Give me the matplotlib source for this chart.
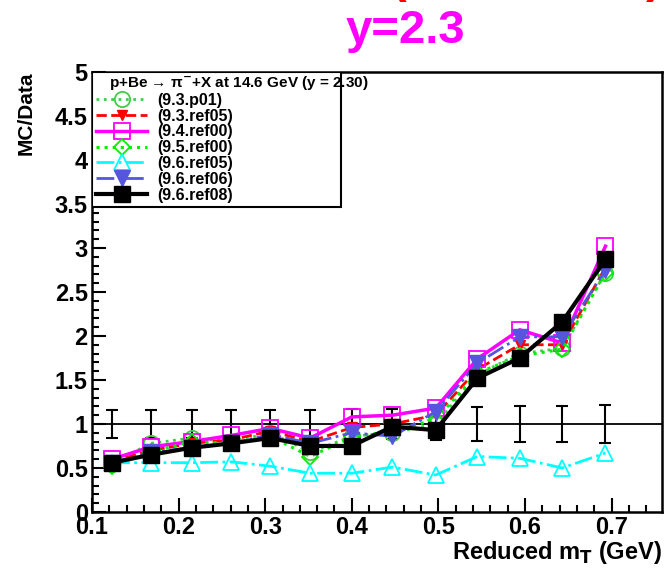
import numpy as np
import matplotlib.pyplot as plt
from matplotlib.patches import Rectangle
from matplotlib.ticker import MultipleLocator, FuncFormatter

plt.rcParams['font.family'] = ['Liberation Sans', 'DejaVu Sans']
plt.rcParams['font.weight'] = 'bold'

# reduced mT bin centres (GeV)
mt = [0.123, 0.168, 0.215, 0.261, 0.306, 0.352, 0.400, 0.447, 0.497, 0.545, 0.594, 0.643, 0.693]
# data uncertainty band around 1
data_err = [0.16, 0.16, 0.16, 0.16, 0.16, 0.16, 0.17, 0.17, 0.18, 0.19, 0.20, 0.20, 0.22]

p01 = [0.55, 0.78, 0.84, 0.80, 0.90, 0.68, 0.86, 0.90, 1.00, 1.56, 1.80, 1.86, 2.72]
ref05_93 = [0.57, 0.70, 0.78, 0.82, 0.92, 0.80, 0.96, 1.00, 1.10, 1.62, 1.90, 1.90, 2.78]
ref00_94 = [0.60, 0.74, 0.80, 0.87, 0.95, 0.84, 1.08, 1.10, 1.18, 1.74, 2.07, 1.92, 3.02]
ref00_95 = [0.52, 0.68, 0.80, 0.78, 0.86, 0.63, 0.85, 0.92, 1.05, 1.58, 1.77, 1.85, 2.72]
ref05_96 = [0.56, 0.56, 0.56, 0.57, 0.52, 0.44, 0.44, 0.51, 0.42, 0.63, 0.61, 0.50, 0.67]
ref06_96 = [0.56, 0.68, 0.73, 0.78, 0.88, 0.78, 0.90, 0.86, 1.14, 1.69, 1.99, 1.99, 2.75]
ref08_96 = [0.56, 0.65, 0.73, 0.78, 0.84, 0.75, 0.75, 0.97, 0.93, 1.52, 1.75, 2.16, 2.87]

fig = plt.figure(figsize=(6.64, 5.70), dpi=100)
ax = fig.add_axes([0.1386, 0.1018, 0.858, 0.772])

ax.axhline(1.0, color='black', lw=1.3)
ax.errorbar(mt, np.ones(len(mt)), yerr=data_err, fmt='none', ecolor='black',
            elinewidth=1.5, capsize=4, capthick=1.5)

ax.plot(mt, p01, color='#44cc44', ls=':', lw=2, marker='o', ms=11,
        mfc='none', mec='#44cc44', mew=1.3, label='(9.3.p01)')
ax.plot(mt, ref05_93, color='red', ls='--', lw=2, marker='v', ms=7,
        mfc='red', mec='red', label='(9.3.ref05)')
ax.plot(mt, ref00_94, color='magenta', ls='-', lw=2.5, marker='s', ms=12,
        mfc='none', mec='magenta', mew=1.3, label='(9.4.ref00)')
ax.plot(mt, ref00_95, color='#00ee00', ls=':', lw=2.2, marker='D', ms=8,
        mfc='none', mec='#00ee00', mew=1.3, label='(9.5.ref00)')
ax.plot(mt, ref05_96, color='cyan', ls='-.', lw=2, marker='^', ms=12,
        mfc='none', mec='cyan', mew=1.3, label='(9.6.ref05)')
ax.plot(mt, ref06_96, color='#5555dd', ls='-.', lw=2, marker='v', ms=11,
        mfc='#5555dd', mec='#5555dd', label='(9.6.ref06)')
ax.plot(mt, ref08_96, color='black', ls='-', lw=3, marker='s', ms=12,
        mfc='black', mec='black', label='(9.6.ref08)')

ax.set_xlim(0.1, 0.758)
ax.set_ylim(0, 5)
ax.xaxis.set_major_locator(MultipleLocator(0.1))
ax.xaxis.set_minor_locator(MultipleLocator(0.02))
ax.yaxis.set_major_locator(MultipleLocator(0.5))
ax.yaxis.set_minor_locator(MultipleLocator(0.1))
fmt = FuncFormatter(lambda v, pos: '%g' % round(v, 3))
ax.xaxis.set_major_formatter(fmt)
ax.yaxis.set_major_formatter(fmt)
ax.tick_params(which='both', direction='in', top=False, right=False, width=1.5)
ax.tick_params(which='major', length=10, labelsize=17, pad=3)
ax.tick_params(which='minor', length=5)
for s in ax.spines.values():
    s.set_linewidth(1.8)

ax.set_xlabel('Reduced m$_\\mathbf{T}$ (GeV)', fontsize=17, fontweight='bold', loc='right', labelpad=0)
ax.set_ylabel('MC/Data', fontsize=15, fontweight='bold', loc='top', labelpad=14)

# legend box with header
ax.add_patch(Rectangle((0, 0.694), 0.437, 0.306, transform=ax.transAxes,
                       fill=True, fc='white', ec='black', lw=1.5, zorder=5))
ax.text(0.03, 0.995, 'p+Be \u2192 \u03c0$^{-}$+X at 14.6 GeV (y = 2.30)', transform=ax.transAxes,
        fontsize=11, fontweight='bold', va='top', ha='left', zorder=6)
leg = ax.legend(loc='upper left', bbox_to_anchor=(-0.012, 0.978), frameon=False,
                fontsize=11.5, handlelength=3.2, labelspacing=0.05, borderpad=0.2,
                handletextpad=0.6)
leg.set_zorder(7)

fig.text(0.61, 0.945, 'y=2.3', color='magenta', fontsize=34, fontweight='bold',
         ha='center', va='center')
fig.text(0.60, 1.035, '(', color='red', fontsize=34, fontweight='bold',
         ha='center', va='center')
fig.text(0.985, 1.035, ')', color='red', fontsize=34, fontweight='bold',
         ha='center', va='center')

fig.savefig('out.png', dpi=100)
